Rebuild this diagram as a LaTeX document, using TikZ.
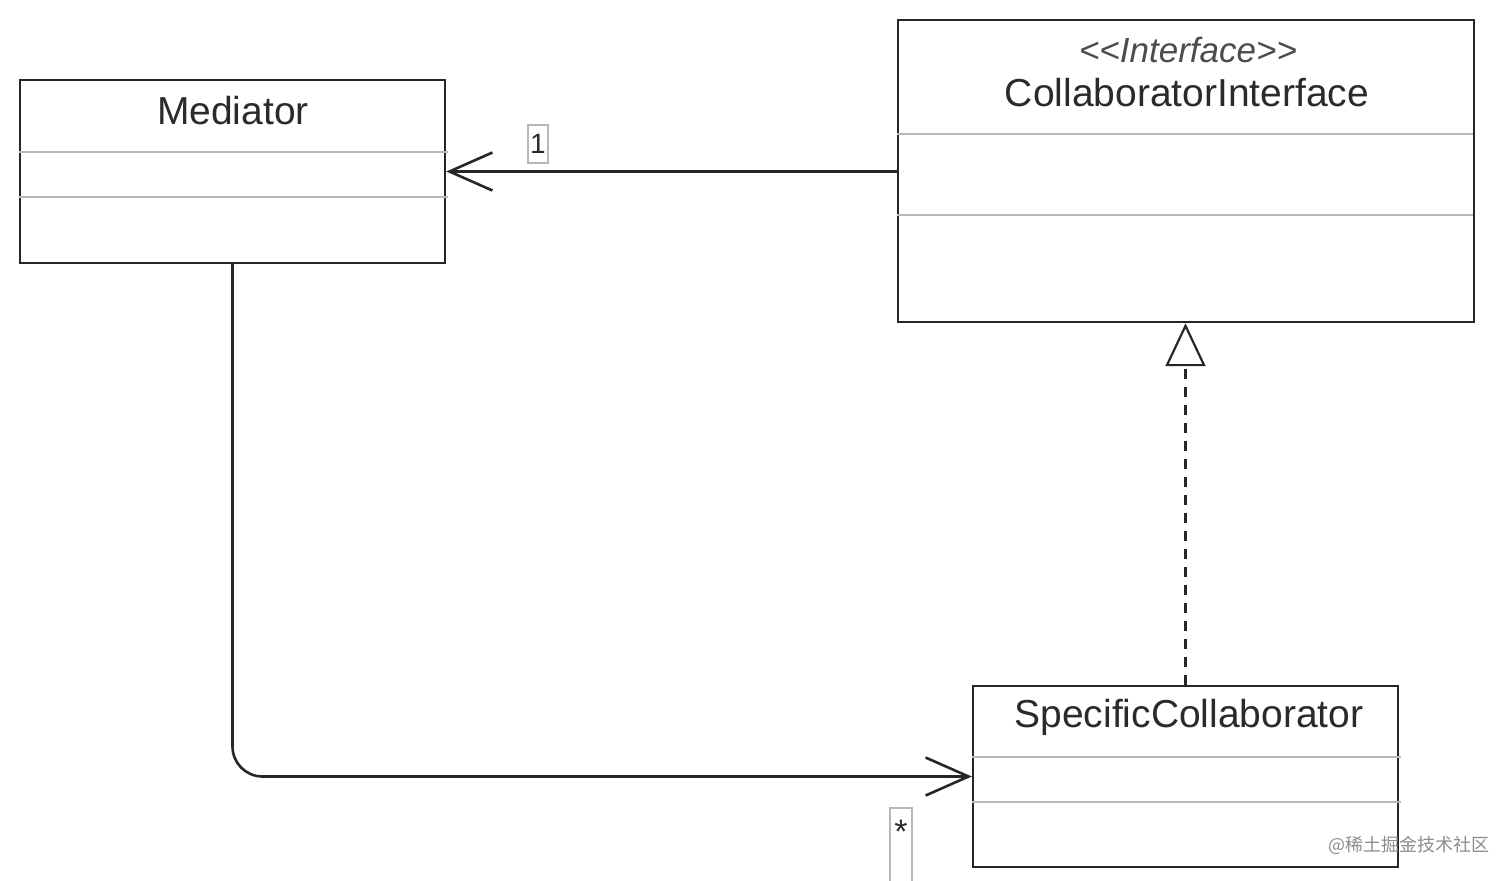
\documentclass[tikz,border=0pt]{standalone}
\usepackage{fontspec}
\setmainfont{Liberation Sans}
\newfontfamily\cjkfont{Noto Sans CJK SC}
\usetikzlibrary{arrows.meta}
\usetikzlibrary{calc}

\definecolor{sepgray}{HTML}{B8B8B8}
\definecolor{textdark}{HTML}{2A2A2A}
\tikzset{
  classbox/.style={draw=black!85, line width=1.2pt, rectangle, inner sep=0pt},
  classname/.style={text=textdark, font=\fontsize{19.5}{22}\selectfont, inner sep=0pt},
  stereo/.style={text=black!70, font=\fontsize{17.5}{20}\selectfont\itshape, inner sep=0pt},
  sepline/.style={draw=sepgray, line width=0.9pt},
  assoc/.style={draw=black!85, line width=1.3pt, -{Straight Barb[length=21.5pt, width=19pt, line width=1.3pt]}},
  realize/.style={draw=black!85, line width=1.1pt, dash pattern=on 5pt off 4pt, -{Triangle[open, length=21.5pt, width=20pt, line width=1.1pt]}},
  multlabel/.style={draw=sepgray, line width=0.7pt, text=textdark, font=\fontsize{14}{16}\selectfont, inner sep=0pt},
}

\begin{document}
\begin{tikzpicture}[x=0.5pt, y=-0.5pt]
      \useasboundingbox (0,0) rectangle (1512,880);

      % class boxes
      \node[classbox, minimum width=212.5pt, minimum height=91.5pt] (med) at (232.5,171.5) {};
      \node[classbox, minimum width=288pt, minimum height=151pt] (iface) at (1186,171) {};
      \node[classbox, minimum width=212.5pt, minimum height=90.5pt] (spec) at (1185.5,776.5) {};

      \node[classname] (medname) at (233,111) {Mediator};
      \node[stereo] (ifacestereo) at (1188,50) {{<}{<}Interface{>}{>}};
      \node[classname] (ifacename) at (1187,93) {CollaboratorInterface};
      \node[classname] (specname) at (1189,717) {SpecificCollaborator};

      % compartments
      \draw[sepline] ($(med.north west)+(0,73)$) -- ++(429,0);
      \draw[sepline] ($(med.north west)+(0,118)$) -- ++(429,0);
      \draw[sepline] ($(iface.north west)+(0,115)$) -- ++(576,0);
      \draw[sepline] ($(iface.north west)+(0,196)$) -- ++(576,0);
      \draw[sepline] ($(spec.north west)+(0,72)$) -- ++(429,0);
      \draw[sepline] ($(spec.north west)+(0,117)$) -- ++(429,0);

      % relations
      \draw[assoc] (iface.west |- med.east) -- (med.east);
      \draw[assoc, rounded corners=15pt] (med.south) |- (spec.west);
      \draw[realize] (spec.north) -- (iface.south -| spec.north);

      % multiplicities
      \node[multlabel, minimum width=10pt, minimum height=19pt] (one) at (538,144) {1};
      \node[text=textdark, font=\fontsize{17}{18}\selectfont, inner sep=0pt] (many) at (901,832) {*};
      \draw[draw=sepgray, line width=0.7pt] (890,884) |- (912,808) -- (912,884);

      \node[text=black!45, font=\cjkfont\fontsize{9}{10}\selectfont, inner sep=0pt, anchor=west] (mark) at (1328,845) {@稀土掘金技术社区};
    \end{tikzpicture}
\end{document}
